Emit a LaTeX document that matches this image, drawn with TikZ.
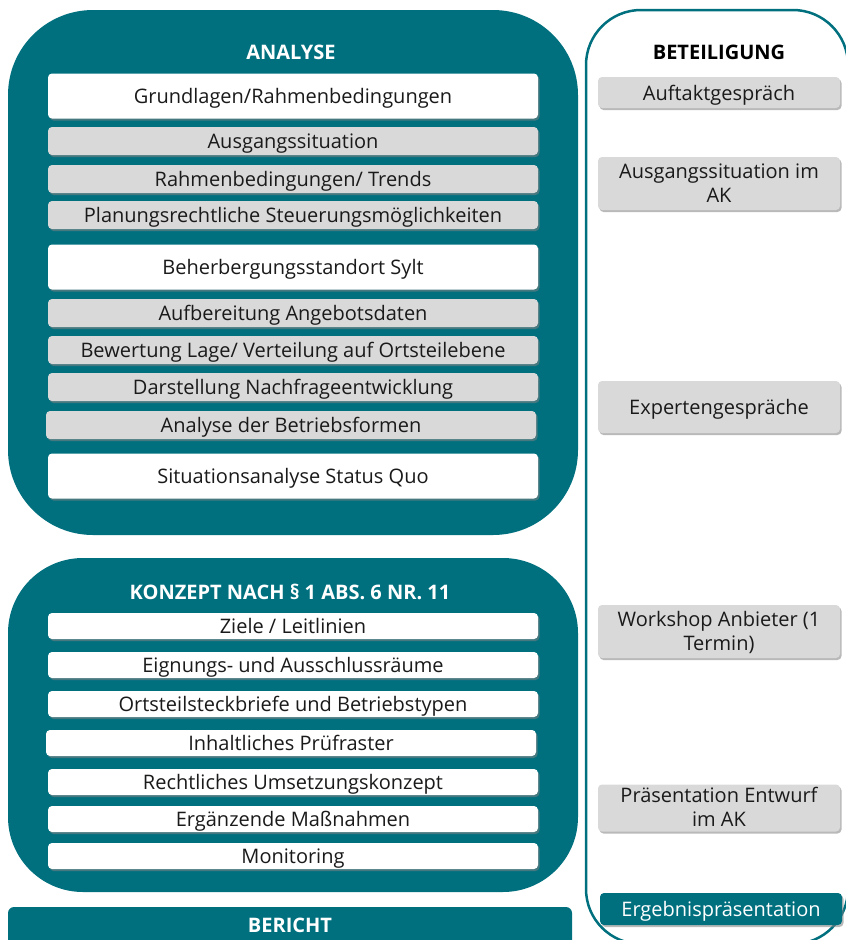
\documentclass[tikz,border=0pt]{standalone}
\usepackage{fontspec}
\setmainfont{Open Sans}
\usetikzlibrary{shadows}
\definecolor{tealc}{HTML}{00707F}
\definecolor{grayc}{HTML}{D9D9D9}
\definecolor{txt}{HTML}{1A1A1A}
\tikzset{
  panel/.style={fill=tealc, draw=none, rounded corners=85pt, inner sep=0pt},
  boxbase/.style={rounded corners=4pt, inner sep=0pt, align=center, text=txt,
    font=\fontsize{20}{24}\selectfont, text height=18pt, text depth=2.5pt,
    drop shadow={opacity=0.55, shadow xshift=1.5pt, shadow yshift=-2pt}},
  whitebig/.style={boxbase, fill=white, minimum width=490pt, minimum height=45pt},
  graybar/.style={boxbase, fill=grayc, minimum width=490pt, minimum height=28pt},
  whitebar/.style={boxbase, fill=white, minimum width=490pt, minimum height=26pt},
  sidebox/.style={boxbase, fill=grayc, minimum width=242pt},
  twoline/.style={text height=40pt},
  paneltitle/.style={font=\bfseries\fontsize{20}{24}\selectfont, text=white},
}
\begin{document}
\begin{tikzpicture}[x=1pt,y=-1pt]
\useasboundingbox (0,0) rectangle (846,940);

% panels
\node[panel, minimum width=570pt, minimum height=525pt] (analyse) at (293,272.5) {};
\node[panel, rounded corners=75pt, minimum width=570pt, minimum height=334pt] (konzept) at (293,725) {};
\node[fill=tealc, rounded corners=6pt, minimum width=564pt, minimum height=40pt, inner sep=0pt] (bericht) at (290,927) {};
\node[paneltitle] (berichtT) at (290,925) {BERICHT};

\node[draw=tealc, line width=2.5pt, rounded corners=55pt, minimum width=262pt, minimum height=934pt, inner sep=0pt] (beteil) at (717,477) {};

% ANALYSE
\node[paneltitle] (analyseT) at (291,52) {ANALYSE};
\node[whitebig] (a1) at (293,96) {Grundlagen/Rahmenbedingungen};
\node[graybar] (a2) at (293,141) {Ausgangssituation};
\node[graybar] (a3) at (293,179) {Rahmenbedingungen/ Trends};
\node[graybar] (a4) at (293,215) {Planungsrechtliche Steuerungsmöglichkeiten};
\node[whitebig] (a5) at (293,267) {Beherbergungsstandort Sylt};
\node[graybar] (a6) at (293,313) {Aufbereitung Angebotsdaten};
\node[graybar] (a7) at (293,350) {Bewertung Lage/ Verteilung auf Ortsteilebene};
\node[graybar] (a8) at (293,387) {Darstellung Nachfrageentwicklung};
\node[graybar] (a9) at (291,425) {Analyse der Betriebsformen};
\node[whitebig] (a10) at (293,476) {Situationsanalyse Status Quo};

% KONZEPT
\node[paneltitle] (konzeptT) at (290,592) {KONZEPT NACH § 1 ABS. 6 NR. 11};
\node[whitebar] (k1) at (293,626) {Ziele / Leitlinien};
\node[whitebar] (k2) at (293,665) {Eignungs- und Ausschlussräume};
\node[whitebar] (k3) at (293,704) {Ortsteilsteckbriefe und Betriebstypen};
\node[whitebar] (k4) at (291,743) {Inhaltliches Prüfraster};
\node[whitebar] (k5) at (293,782) {Rechtliches Umsetzungskonzept};
\node[whitebar] (k6) at (293,819) {Ergänzende Maßnahmen};
\node[whitebar] (k7) at (293,856) {Monitoring};

% BETEILIGUNG
\node[font=\bfseries\fontsize{20}{24}\selectfont, text=black] (beteilT) at (719,52) {BETEILIGUNG};
\node[sidebox, minimum height=31pt] (b1) at (719,92.5) {Auftaktgespräch};
\node[sidebox, twoline, minimum height=53pt] (b2) at (719,183.5) {Ausgangssituation im\\AK};
\node[sidebox, minimum height=52pt] (b3) at (719,407) {Expertengespräche};
\node[sidebox, twoline, minimum height=53pt] (b4) at (719,631.5) {Workshop Anbieter (1\\Termin)};
\node[sidebox, twoline, minimum height=47pt] (b5) at (719,808) {Präsentation Entwurf\\im AK};
\node[sidebox, fill=tealc, text=white, minimum height=32pt] (b6) at (721,909) {Ergebnispräsentation};
\end{tikzpicture}
\end{document}
